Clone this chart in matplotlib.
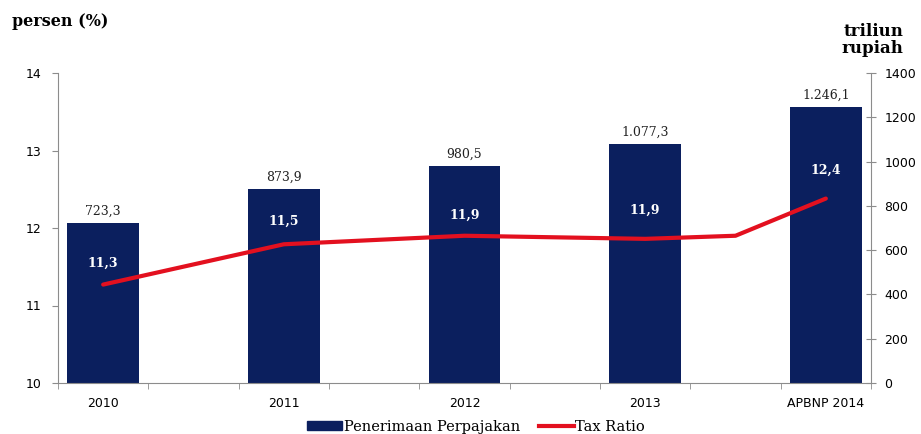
import numpy as np
import matplotlib
matplotlib.use('Agg')
import matplotlib.pyplot as plt
from matplotlib.patches import Patch
from matplotlib.lines import Line2D

# data
years = ['2010', '2011', '2012', '2013', 'APBNP 2014']
penerimaan = [723.3, 873.9, 980.5, 1077.3, 1246.1]      # triliun rupiah
tax_ratio = [11.3, 11.5, 11.9, 11.9, 12.4]              # labels in bars (%)
# red line: points where it bends (9 slots on the x axis, years on even slots)
line_slots = [0, 2, 4, 6, 7, 8]
line_values = [11.27, 11.79, 11.90, 11.86, 11.90, 12.38]

navy = '#0b1f5e'
red = '#e3101f'
grey = '#8c8c8c'
serif = 'DejaVu Serif'


def fmt_id(v):
    s = f'{v:,.1f}'
    return s.replace(',', 'X').replace('.', ',').replace('X', '.')


fig = plt.figure(figsize=(9.21, 4.34), dpi=100)
ax = fig.add_axes([58/921, 1 - 383/434, 813/921, 310/434])
ax2 = ax.twinx()

# bars on the right axis
bar_x = np.arange(len(years)) * 2
bars = ax2.bar(bar_x, penerimaan, width=0.79, color=navy, zorder=2)
for x, v in zip(bar_x, penerimaan):
    ax2.annotate(fmt_id(v), (x, v), xytext=(0, 4), textcoords='offset points',
                 ha='center', va='bottom', fontsize=9, family=serif, color='#222222')

# tax ratio labels inside bars (right-axis units)
label_y = [542, 732, 759, 781, 962]
for x, y, t in zip(bar_x, label_y, tax_ratio):
    ax2.text(x, y, f'{t:.1f}'.replace('.', ','), ha='center', va='center',
             fontsize=9, family=serif, fontweight='bold', color='white', zorder=4)

# line on the left axis, drawn above the bars
ax.set_zorder(ax2.get_zorder() + 1)
ax.patch.set_visible(False)
ax.plot(line_slots, line_values, color=red, lw=3, solid_capstyle='round', zorder=3)

ax.set_ylim(10, 14)
ax.set_yticks([10, 11, 12, 13, 14])
ax2.set_ylim(0, 1400)
ax2.set_yticks(range(0, 1401, 200))
ax.set_xlim(-0.5, 8.5)

ax.set_xticks(bar_x)
ax.set_xticklabels(years)
ax.set_xticks(np.arange(-0.5, 9, 1), minor=True)
ax.tick_params(axis='x', which='major', length=0, pad=10, labelsize=9)
ax.tick_params(axis='x', which='minor', length=4, direction='out', color=grey)
ax.tick_params(axis='y', length=4, direction='out', color=grey, labelsize=9, pad=8)
ax2.tick_params(axis='y', length=7, direction='inout', color=grey, labelsize=9, pad=6)

for a in (ax, ax2):
    a.spines['top'].set_visible(False)
    for s in ('left', 'right', 'bottom'):
        a.spines[s].set_color(grey)
ax2.spines['left'].set_visible(False)
ax2.spines['bottom'].set_visible(False)
ax.spines['right'].set_visible(False)

fig.text(12/921, 1 - 22/434, 'persen (%)', family=serif, fontweight='bold',
         fontsize=11.5, ha='left', va='center')
fig.text(903/921, 1 - 40/434, 'triliun\nrupiah', family=serif, fontweight='bold',
         fontsize=12, ha='right', va='center', linespacing=1.05)

handles = [Patch(color=navy), Line2D([], [], color=red, lw=3)]
fig.legend(handles, ['Penerimaan Perpajakan', 'Tax Ratio'], loc='center',
           bbox_to_anchor=(476/921, 1 - 427/434), ncol=2, frameon=False,
           prop={'family': serif, 'size': 10.5}, handlelength=2.4, handleheight=0.6,
           handletextpad=0.1, columnspacing=1.3)

fig.savefig('out.png', dpi=100)
